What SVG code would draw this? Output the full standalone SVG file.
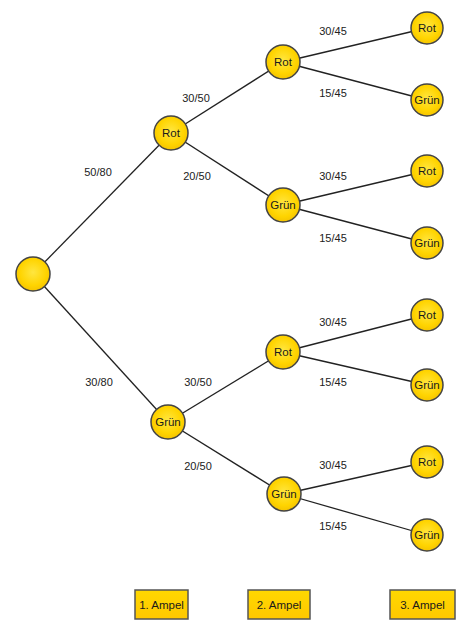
<svg xmlns="http://www.w3.org/2000/svg" width="457" height="625" viewBox="0 0 457 625">
<defs>
<radialGradient id="g" cx="50%" cy="45%" r="55%">
<stop offset="0" stop-color="#FFE640"/>
<stop offset="0.7" stop-color="#FFD400"/>
<stop offset="1" stop-color="#F5C400"/>
</radialGradient>
<linearGradient id="bg" x1="0" y1="0" x2="0" y2="1">
<stop offset="0" stop-color="#FFD800"/>
<stop offset="1" stop-color="#FFC800"/>
</linearGradient>
</defs>
<style>
.n{fill:url(#g);stroke:#444;stroke-width:1.5}
.b{fill:url(#bg);stroke:#555;stroke-width:1.5}
.t{font-family:"Liberation Sans",Arial,sans-serif;font-size:11.5px;fill:#1a1a1a;text-anchor:middle;dominant-baseline:central}
.l{font-family:"Liberation Sans",Arial,sans-serif;font-size:11px;fill:#222;text-anchor:middle;dominant-baseline:central}
.e{stroke:#222;stroke-width:1.3;fill:none}
</style>
<rect width="457" height="625" fill="#fff"/>
<g id="connectors">
<line class="e" x1="33" y1="274" x2="171" y2="133"/>
<line class="e" x1="33" y1="274" x2="168" y2="422"/>
<line class="e" x1="171" y1="133" x2="283" y2="62"/>
<line class="e" x1="171" y1="133" x2="283" y2="205"/>
<line class="e" x1="168" y1="422" x2="283" y2="352"/>
<line class="e" x1="168" y1="422" x2="284" y2="494"/>
<line class="e" x1="283" y1="62" x2="427" y2="28"/>
<line class="e" x1="283" y1="62" x2="427" y2="100"/>
<line class="e" x1="283" y1="205" x2="427" y2="171"/>
<line class="e" x1="283" y1="205" x2="427" y2="243"/>
<line class="e" x1="283" y1="352" x2="427" y2="315"/>
<line class="e" x1="283" y1="352" x2="427" y2="385"/>
<line class="e" x1="284" y1="494" x2="427" y2="462"/>
<line class="e" x1="284" y1="494" x2="427" y2="535"/>
</g>
<g id="labels">
<text class="l" x="98" y="172">50/80</text>
<text class="l" x="99" y="382">30/80</text>
<text class="l" x="196" y="98">30/50</text>
<text class="l" x="197" y="176">20/50</text>
<text class="l" x="198" y="382">30/50</text>
<text class="l" x="198" y="466">20/50</text>
<text class="l" x="333" y="31">30/45</text>
<text class="l" x="333" y="93">15/45</text>
<text class="l" x="333" y="176">30/45</text>
<text class="l" x="333" y="238">15/45</text>
<text class="l" x="333" y="322">30/45</text>
<text class="l" x="333" y="382">15/45</text>
<text class="l" x="333" y="465">30/45</text>
<text class="l" x="333" y="526">15/45</text>
</g>
<g id="root"><circle class="n" cx="33" cy="274" r="17"/></g>
<g id="n1-rot"><circle class="n" cx="171" cy="133" r="17"/><text class="t" x="171" y="133">Rot</text></g>
<g id="n1-gruen"><circle class="n" cx="168" cy="422" r="17"/><text class="t" x="168" y="422">Grün</text></g>
<g id="n2-rot-a"><circle class="n" cx="283" cy="62" r="17"/><text class="t" x="283" y="62">Rot</text></g>
<g id="n2-gruen-a"><circle class="n" cx="283" cy="205" r="17"/><text class="t" x="283" y="205">Grün</text></g>
<g id="n2-rot-b"><circle class="n" cx="283" cy="352" r="17"/><text class="t" x="283" y="352">Rot</text></g>
<g id="n2-gruen-b"><circle class="n" cx="284" cy="494" r="17"/><text class="t" x="284" y="494">Grün</text></g>
<g id="n3-1"><circle class="n" cx="427" cy="28" r="16"/><text class="t" x="427" y="28">Rot</text></g>
<g id="n3-2"><circle class="n" cx="427" cy="100" r="16"/><text class="t" x="427" y="100">Grün</text></g>
<g id="n3-3"><circle class="n" cx="427" cy="171" r="16"/><text class="t" x="427" y="171">Rot</text></g>
<g id="n3-4"><circle class="n" cx="427" cy="243" r="16"/><text class="t" x="427" y="243">Grün</text></g>
<g id="n3-5"><circle class="n" cx="427" cy="315" r="16"/><text class="t" x="427" y="315">Rot</text></g>
<g id="n3-6"><circle class="n" cx="427" cy="385" r="16"/><text class="t" x="427" y="385">Grün</text></g>
<g id="n3-7"><circle class="n" cx="427" cy="462" r="16"/><text class="t" x="427" y="462">Rot</text></g>
<g id="n3-8"><circle class="n" cx="427" cy="535" r="16"/><text class="t" x="427" y="535">Grün</text></g>
<g id="box1"><rect class="b" x="135" y="590" width="53" height="29"/><text class="t" x="161.5" y="604.5">1. Ampel</text></g>
<g id="box2"><rect class="b" x="248" y="590" width="62" height="29"/><text class="t" x="279" y="604.5">2. Ampel</text></g>
<g id="box3"><rect class="b" x="390" y="590" width="65" height="29"/><text class="t" x="422.5" y="604.5">3. Ampel</text></g>
</svg>
